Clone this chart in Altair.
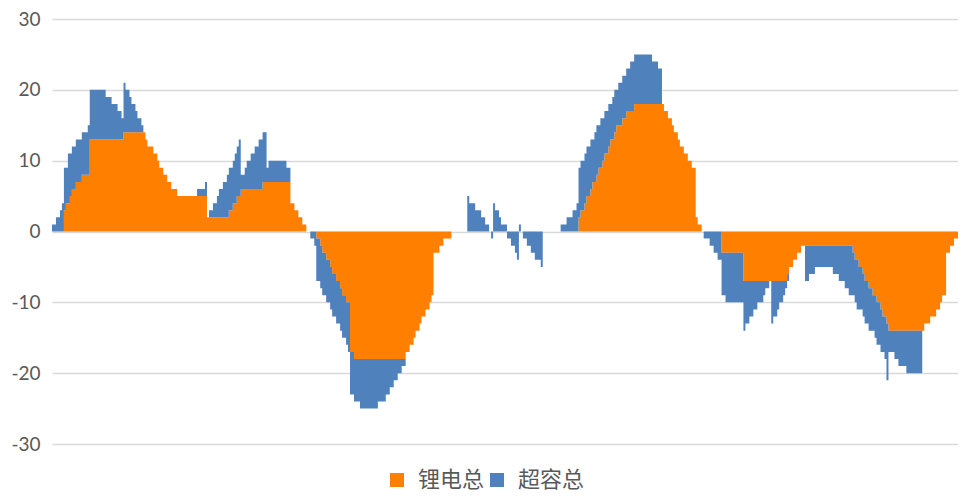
import altair as alt
import pandas as pd

# Step-wise series.
# step_start: first time step of each run; li_vals / tot_vals: lithium value and stacked total during that run.
step_start = [0, 2, 4, 5, 6, 7, 8, 9, 10, 12, 15, 18, 19, 27, 30, 33, 35, 36, 37, 39, 40, 42, 43, 45, 46, 47, 48, 51, 53, 54, 56, 58, 60, 63, 73, 77, 78, 79, 81, 83, 84, 86, 88, 89, 91, 92, 93, 94, 95, 97, 98, 100, 102, 104, 106, 108, 109, 118, 120, 122, 124, 126, 128, 130, 132, 133, 135, 136, 138, 140, 141, 143, 145, 146, 148, 149, 150, 152, 155, 164, 168, 170, 172, 174, 176, 178, 180, 182, 183, 185, 186, 188, 190, 191, 192, 195, 197, 201, 209, 210, 213, 216, 218, 220, 221, 222, 223, 225, 226, 229, 231, 233, 234, 235, 236, 237, 239, 241, 243, 246, 247, 256, 259, 262, 264, 265, 266, 268, 269, 271, 272, 273, 274, 275, 276, 277, 278, 280, 281, 282, 283, 284, 285, 287, 289, 291, 293, 302, 305, 307, 308, 310, 312, 313, 315, 316, 318, 320, 322, 324, 325, 327, 328, 331, 333, 335, 337, 339, 348, 349, 351, 353, 355, 358, 359, 361, 362, 363, 365, 366, 368, 369, 370, 371, 373, 375, 377, 379, 381, 384, 393, 396, 399, 401, 403, 404, 405, 406, 408, 409, 411, 413, 414, 415, 417, 418, 419, 420, 421, 424, 426, 430, 438, 439, 442, 445, 447, 448, 450, 452, 454]
li_vals = [0, 0, 0, 0, 3, 4, 4, 5, 6, 7, 8, 8, 13, 13, 13, 13, 13, 14, 14, 14, 14, 14, 14, 14, 14, 13, 12, 11, 10, 9, 8, 7, 6, 5, 5, 5, 2, 2, 2, 2, 2, 2, 2, 3, 4, 4, 5, 5, 6, 6, 6, 6, 6, 6, 7, 7, 7, 7, 4, 3, 2, 1, 0, 0, 0, -1, -2, -3, -4, -5, -6, -7, -8, -9, -10, -10, -17, -18, -18, -18, -18, -18, -18, -18, -18, -17, -16, -15, -14, -13, -12, -11, -10, -9, -3, -2, -1, 0, 0, 0, 0, 0, 0, 0, 0, 0, 0, 0, 0, 0, 0, 0, 0, 0, 0, 0, 0, 0, 0, 0, 0, 0, 0, 0, 0, 2, 3, 4, 5, 6, 7, 7, 8, 9, 9, 10, 11, 12, 13, 13, 14, 15, 15, 16, 17, 17, 18, 18, 18, 18, 17, 16, 15, 14, 13, 12, 11, 10, 9, 2, 1, 0, 0, 0, 0, 0, -3, -3, -7, -7, -7, -7, -7, -7, -7, -7, -7, -7, -7, -7, -7, -7, -6, -5, -4, -3, -2, -2, -2, -2, -2, -2, -2, -2, -3, -4, -4, -5, -6, -7, -8, -9, -9, -10, -11, -12, -12, -13, -14, -14, -14, -14, -14, -13, -12, -11, -10, -9, -3, -2, -1]
tot_vals = [1, 2, 3, 4, 9, 9, 11, 11, 12, 13, 14, 15, 20, 19, 18, 17, 16, 21, 20, 19, 18, 17, 16, 15, 14, 13, 12, 11, 10, 9, 8, 7, 6, 5, 6, 7, 2, 3, 4, 5, 6, 7, 8, 9, 10, 11, 12, 13, 8, 9, 10, 11, 12, 13, 14, 9, 10, 9, 4, 3, 2, 1, 0, -1, -2, -7, -8, -9, -10, -11, -12, -13, -14, -15, -16, -17, -23, -24, -25, -24, -23, -22, -21, -20, -19, -17, -16, -15, -14, -13, -12, -11, -10, -9, -3, -2, -1, 0, 5, 4, 3, 2, 1, 0, -1, 4, 3, 2, 1, -1, -2, -3, -4, 1, 0, -1, -2, -3, -4, -5, 0, 1, 2, 3, 4, 9, 10, 11, 12, 13, 13, 14, 15, 15, 16, 16, 17, 18, 18, 19, 20, 20, 21, 22, 23, 24, 25, 24, 23, 18, 17, 16, 15, 14, 13, 12, 11, 10, 9, 2, 1, 0, -1, -2, -3, -4, -9, -10, -14, -13, -12, -11, -10, -9, -8, -7, -13, -12, -11, -10, -9, -8, -7, -5, -4, -3, -2, -7, -6, -5, -6, -7, -8, -9, -9, -10, -11, -11, -12, -13, -14, -14, -15, -16, -17, -17, -18, -21, -17, -18, -19, -20, -14, -13, -12, -11, -10, -9, -3, -2, -1]
n_steps = 456

series = ["锂电总", "超容总"]
colors = ["#FF7F00", "#4F81BD"]
y_ticks = [-30, -20, -10, 0, 10, 20, 30]

# Each step is drawn as a column: the value holds from its step to the next one.
rows = []
ts = step_start + [n_steps]
for k in range(len(ts)):
    j = min(k, len(step_start) - 1)
    li = li_vals[j]
    sc = tot_vals[j] - li_vals[j]
    rows.append({"t": ts[k], "s": series[0], "v": li, "o": 0})
    rows.append({"t": ts[k], "s": series[1], "v": sc, "o": 1})
df = pd.DataFrame(rows)

color_scale = alt.Scale(domain=series, range=colors)

chart = alt.Chart(df).mark_area(interpolate="step-after").encode(
    x=alt.X("t:Q", axis=None,
            scale=alt.Scale(domain=[0, n_steps], nice=False, zero=False)),
    y=alt.Y("v:Q", stack="zero",
            scale=alt.Scale(domain=[-30, 30], nice=False, zero=False),
            axis=alt.Axis(values=y_ticks, title=None, labelExpr="'' + datum.value",
                          grid=True, gridColor="#D9D9D9", gridWidth=1.3,
                          domain=False, ticks=False, labelPadding=12,
                          labelFont="Lato", labelFontSize=19,
                          labelColor="#595959")),
    color=alt.Color("s:N", scale=color_scale,
                    legend=alt.Legend(orient="none", direction="horizontal",
                                      legendX=334, legendY=450, title=None,
                                      symbolType="square", symbolSize=196,
                                      symbolStrokeWidth=0, symbolOpacity=1,
                                      labelFont="Noto Sans CJK SC",
                                      labelFontSize=22, labelColor="#595959",
                                      labelOffset=10, columnPadding=1)),
    order=alt.Order("o:Q"),
).properties(
    width=906, height=425,
    autosize=alt.AutoSizeParams(type="none"),
    padding={"left": 44, "top": 11, "right": 0, "bottom": 51},
).configure_view(stroke=None)

chart.save("out.html", embed_options={"renderer": "svg", "actions": False})
